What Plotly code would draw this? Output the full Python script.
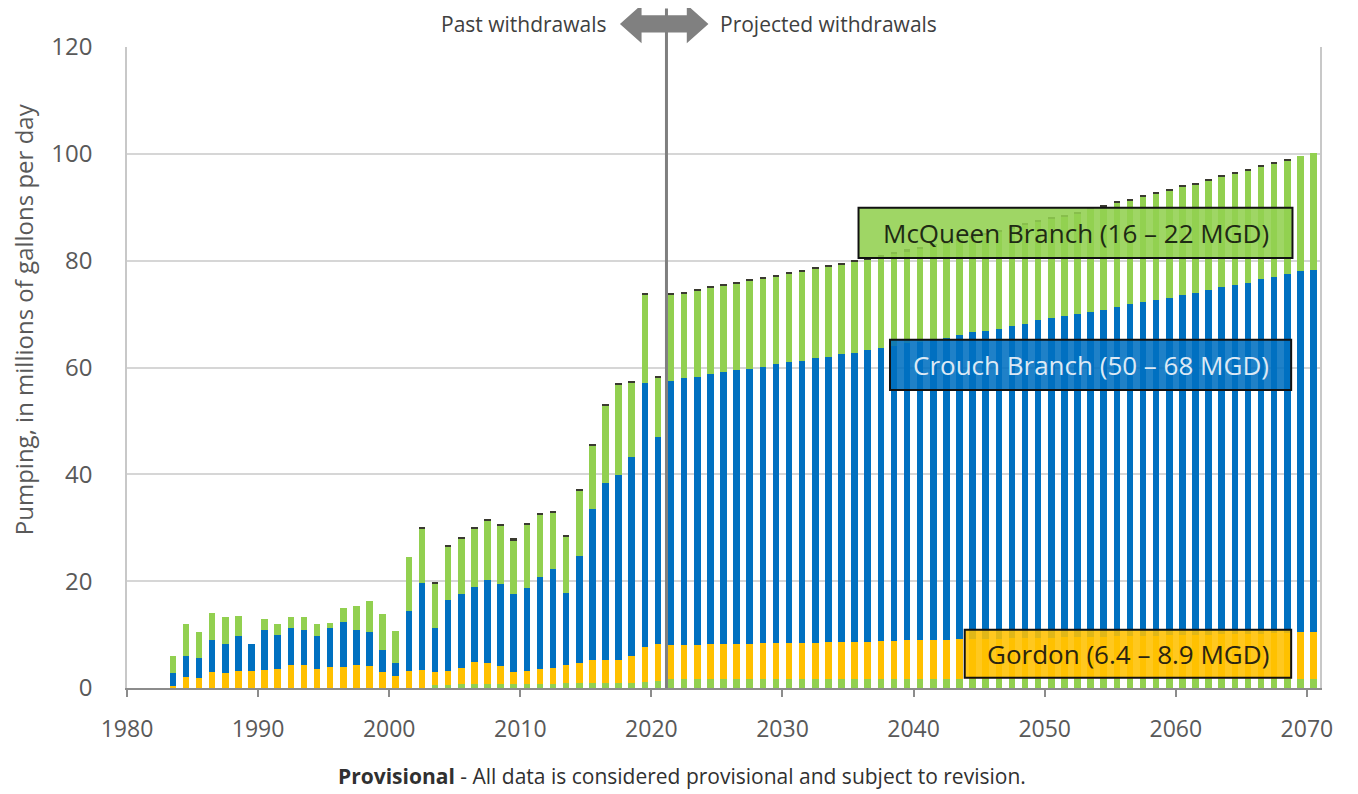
import plotly.graph_objects as go

# ---------------- data ----------------
years = list(range(1983, 2071))

# bottom minor green layer (MGD)
other = [0.0] * 20 + [0.5, 0.6, 0.7, 0.8, 0.8, 0.8, 0.7, 0.7, 0.8, 0.8,
                      0.9, 1.0, 1.0, 1.0, 1.0, 1.0, 1.2, 1.4] + [1.6] * 50

# Gordon aquifer (MGD)
gordon = [0.3, 2.1, 1.8, 3.0, 2.8, 3.2, 3.1, 3.3, 3.5, 4.3,
          4.3, 3.5, 3.9, 3.9, 4.3, 4.1, 3.0, 2.3, 3.1, 3.3,
          2.5, 2.6, 3.1, 4.0, 3.8, 3.3, 2.3, 2.4, 2.8, 2.9,
          3.5, 3.7, 4.3, 4.3, 4.2, 5.0, 6.5, 6.8,
          6.4, 6.5, 6.5, 6.6, 6.6, 6.7, 6.7, 6.8, 6.8, 6.9,
          6.9, 6.9, 7.0, 7.0, 7.1, 7.1, 7.2, 7.2, 7.3, 7.3,
          7.4, 7.4, 7.5, 7.5, 7.6, 7.6, 7.7, 7.7, 7.8, 7.8,
          7.9, 7.9, 8.0, 8.0, 8.1, 8.1, 8.2, 8.2, 8.3, 8.3,
          8.4, 8.4, 8.5, 8.5, 8.6, 8.6, 8.7, 8.7, 8.8, 8.9]

# top of the Crouch Branch (blue) segment, cumulative (MGD)
crouch_top = [2.75, 5.9, 5.7, 9.0, 8.2, 9.7, 8.2, 10.9, 10.0, 11.2,
              10.9, 9.7, 11.2, 12.4, 10.9, 10.5, 7.2, 4.7, 14.4, 19.6,
              11.25, 16.5, 17.6, 19.0, 20.2, 19.4, 17.6, 18.75, 20.7, 22.3,
              17.75, 24.8, 33.6, 38.3, 39.8, 43.3, 57.1, 46.9,
              57.5, 58.0, 58.3, 58.7, 59.2, 59.5, 59.8, 60.15, 60.6, 61.0,
              61.3, 61.7, 62.0, 62.5, 62.8, 63.2, 63.7, 64.1, 64.5, 64.8,
              65.2, 65.5, 66.1, 66.6, 66.8, 67.3, 67.8, 68.2, 68.85, 69.2,
              69.6, 70.0, 70.4, 70.85, 71.35, 71.85, 72.2, 72.6, 73.0, 73.5,
              74.0, 74.5, 75.1, 75.5, 75.9, 76.5, 77.0, 77.5, 78.0, 78.3]

# total bar height (MGD)
total_top = [6.0, 11.9, 10.4, 14.0, 13.2, 13.4, 8.2, 13.0, 11.9, 13.2,
             13.2, 11.9, 12.1, 14.9, 15.4, 16.2, 13.9, 10.7, 24.6, 30.2,
             19.8, 26.7, 28.2, 30.2, 31.7, 30.7, 28.0, 30.9, 32.75, 33.2,
             28.6, 37.3, 45.7, 53.2, 57.1, 57.5, 74.0, 58.4,
             73.9, 74.2, 74.7, 75.2, 75.6, 76.1, 76.5, 76.9, 77.4, 77.9,
             78.3, 78.75, 79.2, 79.6, 80.1, 80.6, 81.1, 81.6, 82.1, 82.6,
             83.1, 83.6, 84.1, 84.7, 85.2, 85.8, 86.4, 87.0, 87.6, 88.1,
             88.6, 89.2, 90.0, 90.5, 91.1, 91.6, 92.3, 92.8, 93.4, 94.1,
             94.6, 95.3, 96.0, 96.6, 97.1, 97.9, 98.5, 99.0, 99.6, 100.25]

# small dark cap on top of bars (MGD)
cap = [0.0] * 19 + [0.3] * 67 + [0.0, 0.0]

x_ticks = list(range(1980, 2071, 10))
y_ticks = list(range(0, 121, 20))
divider_year = 2021.15

labels = [
    ("McQueen Branch (16 \u2013 22 MGD)", 2035.8, 2068.9, 80.5, 89.9, "rgba(146,208,80,0.88)", "#1e2a14"),
    ("Crouch Branch (50 \u2013 68 MGD)", 2038.2, 2068.8, 55.8, 65.2, "rgba(0,112,192,0.88)", "#dce9f5"),
    ("Gordon (6.4 \u2013 8.9 MGD)", 2043.9, 2068.8, 1.9, 10.9, "rgba(255,192,0,0.88)", "#2a2410"),
]

# ---------------- derived segments ----------------
crouch = [round(c - o - g, 2) for c, o, g in zip(crouch_top, other, gordon)]
mcqueen = [round(t - c - k, 2) for t, c, k in zip(total_top, crouch_top, cap)]
xpos = [y + 0.5 for y in years]

GREEN, BLUE, YELLOW, DARK = "#92D050", "#0070C0", "#FFC000", "#3a3a30"
FONT = "Open Sans"
GREY = "#595959"

fig = go.Figure()
for name, vals, col in [("Other", other, GREEN), ("Gordon", gordon, YELLOW),
                        ("Crouch Branch", crouch, BLUE), ("McQueen Branch", mcqueen, GREEN),
                        ("Unassigned", cap, DARK)]:
    fig.add_trace(go.Bar(x=xpos, y=vals, name=name, width=0.5,
                         marker=dict(color=col, line=dict(width=0)), showlegend=False))

fig.update_layout(
    width=1350, height=786, barmode="stack",
    margin=dict(l=119, r=38, t=39, b=106),
    paper_bgcolor="white", plot_bgcolor="white",
    font=dict(family=FONT, color=GREY),
)
fig.update_xaxes(range=[1980, 2071], tickvals=x_ticks, ticks="outside", ticklen=7,
                 tickwidth=2, tickcolor="#8c8c8c", showline=True, linecolor="#8c8c8c",
                 linewidth=2, showgrid=False, zeroline=False,
                 tickfont=dict(size=23, color=GREY, family=FONT), ticklabelstandoff=12)
fig.update_yaxes(range=[0, 120], tickvals=y_ticks, showgrid=True, gridcolor="#d6d6d6",
                 gridwidth=1.5, showline=True, linecolor="#c8c8c8", linewidth=1.5,
                 mirror=True, zeroline=False, ticks="",
                 tickfont=dict(size=24, color=GREY, family=FONT), ticklabelstandoff=28)

# y-axis title
fig.add_annotation(text="Pumping, in millions of gallons per day", xref="paper", yref="paper",
                   x=-0.0865, y=0.575, textangle=-90, showarrow=False,
                   font=dict(size=24, color=GREY, family=FONT), xanchor="center", yanchor="middle")

# divider line
fig.add_shape(type="line", xref="x", yref="paper", x0=divider_year, x1=divider_year,
              y0=0, y1=1.06, line=dict(color="#7f7f7f", width=3), layer="above")

# double arrow
yc, hh, sh = 1.036, 0.030, 0.0135
xl, xr = divider_year - 3.55, divider_year + 3.2
hl = 1.65
path = (f"M {xl},{yc} L {xl+hl},{yc+hh} L {xl+hl},{yc+sh} L {xr-hl},{yc+sh} "
        f"L {xr-hl},{yc+hh} L {xr},{yc} L {xr-hl},{yc-hh} L {xr-hl},{yc-sh} "
        f"L {xl+hl},{yc-sh} L {xl+hl},{yc-hh} Z")
fig.add_shape(type="path", xref="x", yref="paper", path=path,
              fillcolor="#808080", line=dict(width=0), layer="above")

fig.add_annotation(text="Past withdrawals", xref="x", yref="paper", x=xl - 0.8, y=yc,
                   xanchor="right", yanchor="middle", showarrow=False,
                   font=dict(size=21, color="#404040", family=FONT))
fig.add_annotation(text="Projected withdrawals", xref="x", yref="paper", x=xr + 0.7, y=yc,
                   xanchor="left", yanchor="middle", showarrow=False,
                   font=dict(size=21, color="#404040", family=FONT))

# aquifer label boxes
for text, x0, x1, y0, y1, fill, tcol in labels:
    fig.add_shape(type="rect", xref="x", yref="y", x0=x0, x1=x1, y0=y0, y1=y1,
                  fillcolor=fill, line=dict(color="#111111", width=2), layer="above")
    fig.add_annotation(text=text, xref="x", yref="y", x=(x0 + x1) / 2, y=(y0 + y1) / 2,
                       showarrow=False, xanchor="center", yanchor="middle",
                       font=dict(size=26, color=tcol, family=FONT))

# footer
fig.add_annotation(text="<b>Provisional</b> - All data is considered provisional and subject to revision.",
                   xref="paper", yref="paper", x=0.465, y=-0.138, xanchor="center", yanchor="middle",
                   showarrow=False, font=dict(size=21, color="#303030", family=FONT))

fig.write_html("out.html")
